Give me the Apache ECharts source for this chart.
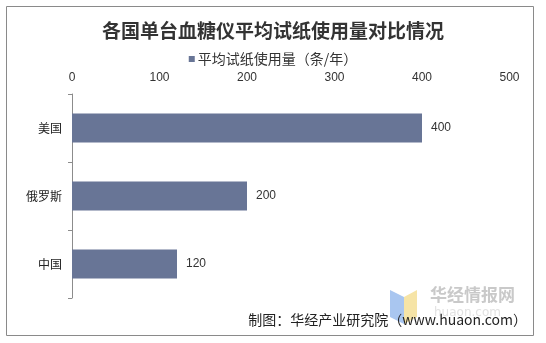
<!DOCTYPE html>
<html>
<head>
<meta charset="utf-8">
<script src="https://cdn.jsdelivr.net/npm/echarts@6/dist/echarts.min.js"></script>
<style>
html,body{margin:0;padding:0;background:#fff;}
#chart{width:546px;height:343px;}
</style>
</head>
<body>
<div id="chart"></div>
<script>
// Average test strips used per glucose meter, by country
const categories = ['美国', '俄罗斯', '中国'];
const stripsPerYear = [400, 200, 120];
const seriesName = '平均试纸使用量（条/年）';
const titleText = '各国单台血糖仪平均试纸使用量对比情况';
const sourceText = '制图：华经产业研究院（www.huaon.com）';

const fontCJK = '"Noto Sans CJK SC", "Noto Sans", sans-serif';
const fontNum = '"Liberation Sans", "Noto Sans CJK SC", sans-serif';
const chart = echarts.init(document.getElementById('chart'), null, {renderer: 'canvas'});

chart.setOption({
  backgroundColor: '#fff',
  animation: false,
  title: {
    text: titleText,
    left: 'center',
    top: 16,
    textStyle: {fontFamily: fontCJK, fontSize: 19, fontWeight: 'bold', color: '#333'}
  },
  legend: {
    data: [seriesName],
    top: 47,
    left: 'center',
    itemWidth: 6,
    itemHeight: 6,
    itemGap: 4,
    icon: 'rect',
    textStyle: {fontFamily: fontCJK, fontSize: 14, color: '#333', padding: [0, 0, 0, -2]}
  },
  grid: {left: 72, right: 36.5, top: 94, bottom: 45},
  xAxis: {
    type: 'value',
    position: 'top',
    min: 0,
    max: 500,
    interval: 100,
    axisLine: {show: false},
    axisTick: {show: false},
    splitLine: {show: false},
    axisLabel: {fontFamily: fontNum, fontSize: 12, color: '#333', margin: 10}
  },
  yAxis: {
    type: 'category',
    data: categories,
    inverse: true,
    axisLine: {show: true, lineStyle: {color: '#8c8c8c', width: 1}},
    axisTick: {show: true, length: 4, lineStyle: {color: '#8c8c8c'}},
    axisLabel: {fontFamily: fontCJK, fontSize: 12, color: '#222', margin: 10}
  },
  series: [{
    name: seriesName,
    type: 'bar',
    data: stripsPerYear,
    barWidth: 29,
    itemStyle: {color: '#687596'},
    label: {show: true, position: 'right', distance: 9, fontFamily: fontNum, fontSize: 12, color: '#333'}
  }],
  graphic: [
    {type: 'rect', shape: {x: 6.5, y: 6.5, width: 527, height: 329}, style: {fill: 'none', stroke: '#8a8a8a', lineWidth: 1}, z: -1},
    // watermark logo
    {type: 'polygon', shape: {points: [[390, 290], [404, 297], [404, 324], [390, 317]]}, style: {fill: '#a9c6f0'}, z: 0},
    {type: 'polygon', shape: {points: [[404, 297], [417, 290], [417, 317], [404, 324]]}, style: {fill: '#f6e4a6'}, z: 0},
    {type: 'text', left: 430, top: 286, style: {text: '华经情报网', font: 'bold 17px "Noto Sans CJK SC", sans-serif', fill: '#c9c9c9'}, z: 0},
    {type: 'text', left: 434, top: 307, style: {text: 'huaon.com', font: '12px "DejaVu Sans", sans-serif', fill: '#e2e2e2'}, z: 0},
    {type: 'text', right: 19, top: 313, style: {text: sourceText, font: '14px "Noto Sans CJK SC", sans-serif', fill: '#222'}, z: 1}
  ]
});
</script>
</body>
</html>
